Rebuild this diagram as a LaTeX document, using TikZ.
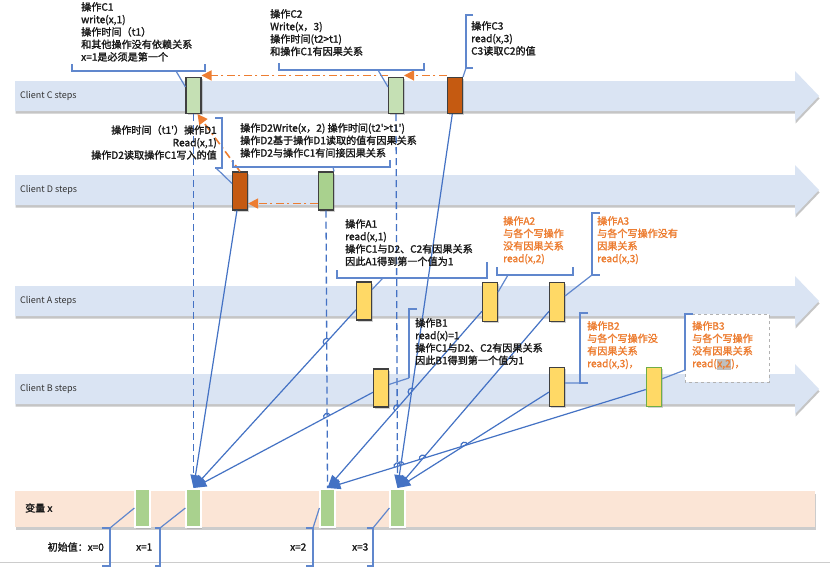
\documentclass[tikz,border=0pt]{standalone}
\usepackage{fontspec}
\setmainfont{Noto Sans CJK SC}
\newfontfamily\boldcjk{Noto Sans CJK SC}[FakeBold=1.6]
\usetikzlibrary{arrows.meta,shadows,calc,intersections}
\definecolor{lanefill}{HTML}{DAE4F3}
\definecolor{peach}{HTML}{FBE5D6}
\definecolor{lgreen}{HTML}{C5E0B4}
\definecolor{mgreen}{HTML}{A9D18E}
\definecolor{rust}{HTML}{C55A11}
\definecolor{yel}{HTML}{FFD966}
\definecolor{cblue}{HTML}{4472C4}
\definecolor{orng}{HTML}{ED7D31}
\definecolor{bgreen}{HTML}{70AD47}
\tikzset{
  lanest/.style={fill=lanefill, drop shadow={opacity=.45, shadow xshift=0.6pt, shadow yshift=-2.5pt}},
  varst/.style={fill=peach, drop shadow={opacity=.4, shadow xshift=0.6pt, shadow yshift=-2.5pt}},
  lanelbl/.style={anchor=west, inner sep=0, font=\fontsize{9}{11}\selectfont, text=black!80},
  opbox/.style={draw=black!75, line width=1.1pt, minimum width=15pt, minimum height=36pt, inner sep=0,
     drop shadow={opacity=.35, shadow xshift=1.5pt, shadow yshift=-1.5pt}},
  varbox/.style={draw=white, line width=1.2pt, fill=mgreen, minimum width=15pt, minimum height=38pt, inner sep=0,
     drop shadow={opacity=.3, shadow xshift=1pt, shadow yshift=-1.5pt}},
  rel/.style={draw=cblue, line width=1.2pt, -{Triangle[length=13pt,width=10pt]}},
  hopst/.style={draw=cblue, line width=1.2pt},
  dsh/.style={draw=cblue, line width=1.3pt, dash pattern=on 7pt off 4pt},
  cl/.style={draw=cblue!85, line width=1.2pt},
  oarr/.style={draw=orng, line width=1.6pt, dash pattern=on 8pt off 3.5pt on 2pt off 3.5pt, -{Triangle[length=10pt,width=10pt]}},
  note/.style={anchor=north west, align=left, inner sep=0, font=\boldcjk\fontsize{10.1}{12.5}\selectfont, text=black!90},
  onote/.style={note, text=orng},
  small/.style={inner sep=0, font=\boldcjk\fontsize{10}{12}\selectfont, text=black!90}
}
\newcommand\lanebar[1]{\fill[lanest] (15,#1-15) -- (795,#1-15) -- (795,#1-25) -- (819,#1) -- (795,#1+25) -- (795,#1+15) -- (15,#1+15) -- cycle;}
\newcommand\hopover[3]{%
  \path[name intersections={of=#1 and #2, name=ip, total=\hoptmp}] \pgfextra{\xdef\hoptot{\hoptmp}};
  \ifnum\hoptot>0\relax
    \draw[hopst] (ip-1) ++(#3:3.5) arc[start angle=#3, end angle=#3+180, radius=3.5];
  \fi}
\begin{document}
\begin{tikzpicture}[x=1pt,y=-1pt]
\useasboundingbox (0,0) rectangle (830,570);
\fill[white] (0,0) rectangle (830,570);

% lanes
\lanebar{96}
\lanebar{190}
\lanebar{301}
\lanebar{389}
\fill[varst] (15,491) rectangle (815,527);
\draw[black!20, line width=0.6pt] (0,562) -- (830,562);

\node[lanelbl] (lC) at (20,96) {Client C steps};
\node[lanelbl] (lD) at (20,190) {Client D steps};
\node[lanelbl] (lA) at (20,301) {Client A steps};
\node[lanelbl] (lB) at (20,389) {Client B steps};
\node[small, anchor=west] (lX) at (25,508) {变量 x};

% operation boxes
\node[opbox, fill=lgreen] (C1) at (193.5,95.5) {};
\node[opbox, fill=lgreen] (C2) at (396,95.5) {};
\node[opbox, fill=rust] (C3) at (455,95.5) {};
\node[opbox, fill=rust, minimum height=38pt] (D1) at (240,191) {};
\node[opbox, fill=mgreen, minimum height=38pt] (D2) at (326,191) {};
\node[opbox, fill=yel, minimum height=38pt] (A1) at (364,301) {};
\node[opbox, fill=yel, minimum height=39pt] (A2) at (490,302) {};
\node[opbox, fill=yel, minimum height=39pt] (A3) at (557,302) {};
\node[opbox, fill=yel, minimum height=38pt] (B1) at (381,388) {};
\node[opbox, fill=yel, minimum height=39pt] (B2) at (557,387) {};
\node[opbox, fill=yel, minimum height=39pt, draw=bgreen, line width=1.5pt] (B3) at (654,387) {};

% variable boxes
\node[varbox] (X0) at (142.5,508) {};
\node[varbox] (X1) at (193.5,508) {};
\node[varbox] (X2) at (327.5,508) {};
\node[varbox] (X3) at (397.5,508) {};
\coordinate (T1) at (193.5,488);
\coordinate (T2) at (327.5,488);
\coordinate (T3) at (397.5,488);

% dashed write lines
\draw[dsh, name path=dC1] (C1.south) -- (T1);
\draw[dsh, name path=dD2] (D2.south) -- (T2);
\draw[dsh, name path=dC2] (C2.south) -- (T3);

% read relations
\draw[rel, name path=lD1] (D1) -- (T1);
\draw[rel, name path=lA1] (A1) -- (T1);
\draw[rel, name path=lB1] (B1) -- (T1);
\draw[rel, name path=lC3] (C3) -- (T3);
\draw[rel, name path=lA2] (A2) -- (T2);
\draw[rel, name path=lA3] (A3) -- (T3);
\draw[rel, name path=lB2] (B2) -- (T3);
\draw[rel, name path=lB3] (B3) -- (T2);

\hopover{lA1}{dD2}{132}
\hopover{lB1}{dD2}{152}
\hopover{lA2}{dC2}{131}
\hopover{lA2}{lC3}{131}
\hopover{lB3}{dC2}{163}
\hopover{lB3}{lC3}{163}
\hopover{lB3}{lA3}{163}
\hopover{lB3}{lB2}{163}

% orange causal arrows
\draw[oarr] ([yshift=1.5pt]C3.north west) -- ([yshift=1.5pt]C2.north east);
\draw[oarr] ([yshift=1.5pt]C2.north west) -- ([yshift=1.5pt]C1.north east);
\draw[oarr] (D1.north) -- ([xshift=4pt]C1.south);
\draw[oarr] ([yshift=7pt]D2.south west) -- ([yshift=7pt]D1.south east);

% callouts
\node[note] (tC1) at (81,2) {操作C1\\write(x,1)\\操作时间（t1）\\和其他操作没有依赖关系\\x=1是必须是第一个};
\draw[cl] (72,64) -- (72,71) -- (205,71) -- (205,64);
\draw[cl] (176,71) -- ([yshift=-10pt]C1.north west);

\node[note] (tC2) at (270,9) {操作C2\\Write(x，3)\\操作时间(t2>t1)\\和操作C1有因果关系};
\draw[cl] (279,63) -- (279,70) -- (424,70) -- (424,63);
\draw[cl] (378,70) -- ([yshift=-10pt]C2.north west);

\node[note] (tC3) at (471,21) {操作C3\\read(x,3)\\C3读取C2的值};
\draw[cl] (473,15) -- (466,15) -- (466,68) -- (473,68);
\draw[cl] (466,68) -- (C3.north east);

\node[note, anchor=north east, align=right] (tD1) at (217,125) {操作时间（t1'）操作D1\\Read(x,1)\\操作D2读取操作C1写入的值};
\draw[cl] (215,118) -- (222,118) -- (222,168) -- (215,168);
\draw[cl] (216,168) -- ([yshift=-12pt]D1.north west);

\node[note] (tD2) at (240,123) {操作D2Write(x，2) 操作时间(t2'>t1')\\操作D2基于操作D1读取的值有因果关系\\操作D2与操作C1有间接因果关系};
\draw[cl] (233,160) -- (233,167) -- (390,167) -- (390,160);
\draw[cl] (333,167) -- (D2.north east);

\node[note] (tA1) at (345,219) {操作A1\\read(x,1)\\操作C1与D2、C2有因果关系\\因此A1得到第一个值为1};
\draw[cl] (337,270) -- (337,278) -- (487,278) -- (487,262);
\draw[cl] (383,278) -- ([yshift=-8pt]A1.north east);

\node[onote] (tA2) at (503,216) {操作A2\\与各个写操作\\没有因果关系\\read(x,2)};
\draw[cl] (497,267) -- (497,275) -- (573,275) -- (573,267);
\draw[cl] (508,275) -- ([yshift=-10pt]A2.north east);

\node[onote] (tA3) at (597,216) {操作A3\\与各个写操作没有\\因果关系\\read(x,3)};
\draw[cl] (600,213) -- (592,213) -- (592,275) -- (600,275);
\draw[cl] (592,275) -- ([yshift=-14pt]A3.north east);

\node[note] (tB1) at (415,318) {操作B1\\read(x)=1\\操作C1与D2、C2有因果关系\\因此B1得到第一个值为1};
\draw[cl] (417,309) -- (409,309) -- (409,378);
\draw[cl] (409,378) -- ([yshift=-16pt]B1.north east);

\node[onote] (tB2) at (587,321) {操作B2\\与各个写操作没\\有因果关系\\read(x,3)，};
\draw[cl] (588,313) -- (580,313) -- (580,383) -- (588,383);
\draw[cl] (580,383) -- ([yshift=-16pt]B2.north east);

\draw[black!30, line width=0.8pt, dashed, fill=white] (685,314) rectangle (769,382);
\node[onote] (tB3) at (692,321) {操作B3\\与各个写操作\\没有因果关系\\read({\fboxsep=0.5pt\colorbox{black!25}{x,2}})，};
\draw[cl] (693,314) -- (685,314) -- (685,370);
\draw[cl] (685,370) -- ([yshift=-12pt]B3.north east);

% bottom value labels
\node[small, anchor=east] (v0) at (104,547) {初始值：x=0};
\node[small, anchor=west] (v1) at (136,547) {x=1};
\node[small, anchor=west] (v2) at (290,547) {x=2};
\node[small, anchor=west] (v3) at (352,547) {x=3};
\draw[cl] (102,528) -- (110,528) -- (110,566) -- (102,566);
\draw[cl] (110,528) -- (X0.west);
\draw[cl] (155,528) -- (160,528) -- (160,566) -- (155,566);
\draw[cl] (160,528) -- (X1.west);
\draw[cl] (306,528) -- (313,528) -- (313,566) -- (306,566);
\draw[cl] (313,528) -- (X2.west);
\draw[cl] (367,528) -- (373,528) -- (373,566) -- (367,566);
\draw[cl] (373,528) -- (X3.west);
\end{tikzpicture}
\end{document}
